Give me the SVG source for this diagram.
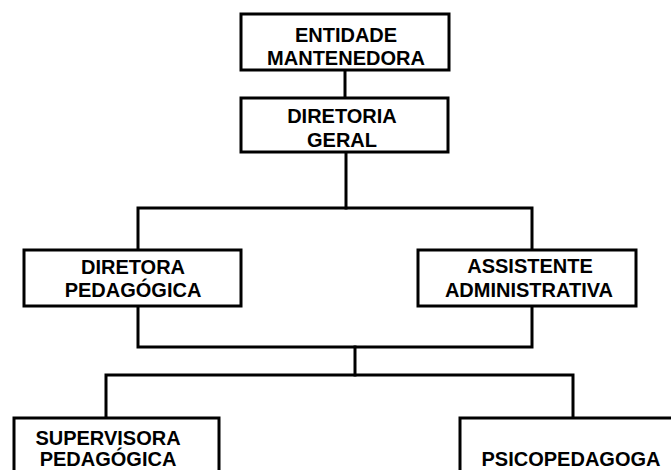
<svg xmlns="http://www.w3.org/2000/svg" width="671" height="470" viewBox="0 0 671 470">
<style>
.box{fill:#fff;stroke:#000;stroke-width:3}
.c{fill:none;stroke:#000;stroke-width:3;stroke-linecap:square}
text{font-family:"Liberation Sans",Arial,sans-serif;font-weight:bold;font-size:20px;fill:#000;text-anchor:middle}
</style>
<rect width="671" height="470" fill="#fff"/>
<g id="connectors">
<path class="c" d="M345,70 V98"/>
<path class="c" d="M346,152 V208"/>
<path class="c" d="M138,250 V208 H532 V250"/>
<path class="c" d="M138,306 V347 H532 V306"/>
<path class="c" d="M355,347 V375"/>
<path class="c" d="M106,418 V375 H573 V418"/>
</g>
<g id="entidade">
<rect class="box" x="241" y="14" width="208" height="56"/>
<text x="346" y="42">ENTIDADE</text>
<text x="346" y="65">MANTENEDORA</text>
</g>
<g id="diretoria">
<rect class="box" x="241" y="98" width="207" height="54"/>
<text x="342" y="123">DIRETORIA</text>
<text x="342" y="147">GERAL</text>
</g>
<g id="diretora">
<rect class="box" x="24" y="250" width="217" height="56"/>
<text x="133" y="274">DIRETORA</text>
<text x="133" y="297">PEDAGÓGICA</text>
</g>
<g id="assistente">
<rect class="box" x="418" y="250" width="218" height="56"/>
<text x="530" y="273">ASSISTENTE</text>
<text x="529" y="297">ADMINISTRATIVA</text>
</g>
<g id="supervisora">
<rect class="box" x="14" y="418" width="205" height="62"/>
<text x="108" y="445">SUPERVISORA</text>
<text x="108" y="466">PEDAGÓGICA</text>
</g>
<g id="psicopedagoga">
<rect class="box" x="460" y="418" width="220" height="62"/>
<text x="571" y="466">PSICOPEDAGOGA</text>
</g>
</svg>
